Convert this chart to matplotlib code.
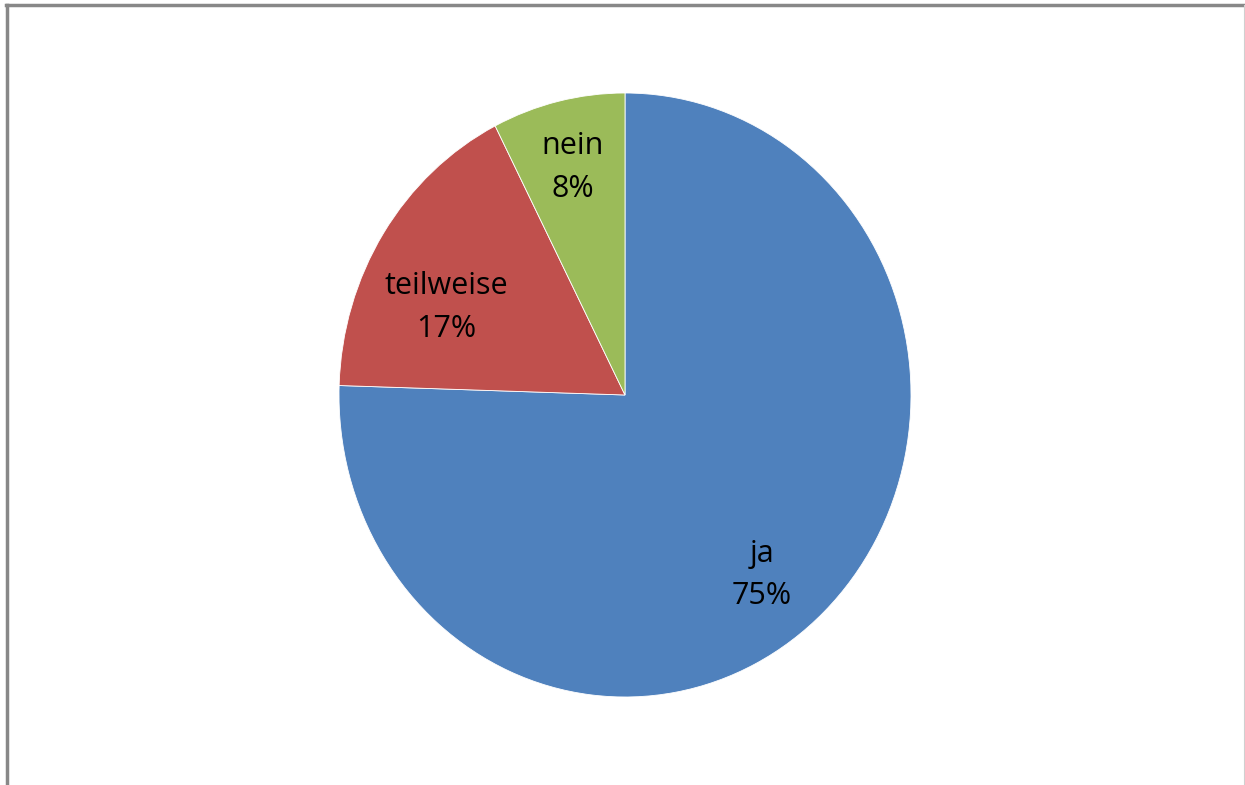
import numpy as np
import matplotlib.pyplot as plt
from matplotlib.lines import Line2D

# Umfrage-Anteile (gemessen aus dem Bild), Reihenfolge im Uhrzeigersinn ab 12 Uhr
categories = ["ja", "teilweise", "nein"]
shares = [75.5, 17.0, 7.5]
pct_labels = ["75%", "17%", "8%"]
colors = ["#4F81BD", "#C0504D", "#9BBB59"]

# label placement: (radius, angle offset from slice middle in degrees)
label_place = [(0.765, -5.3), (0.69, 7.5), (0.775, 0.2)]

plt.rcParams['font.family'] = ['Open Sans', 'DejaVu Sans']

fig = plt.figure(figsize=(12.45, 7.85), dpi=100)
W, H = 1245, 785

# pie slightly taller than wide, like the original
cx, cy, rx, ry = 625, 395, 286, 302
ax = fig.add_axes([(cx - rx) / W, (H - cy - ry) / H, 2 * rx / W, 2 * ry / H])

wedges, _ = ax.pie(shares, colors=colors, startangle=90, counterclock=False,
                   wedgeprops=dict(edgecolor="white", linewidth=0.6))
ax.set_aspect('auto')
ax.set_xlim(-1, 1)
ax.set_ylim(-1, 1)
ax.axis('off')

for w, cat, pl, (r, dth) in zip(wedges, categories, pct_labels, label_place):
    mid = np.deg2rad((w.theta1 + w.theta2) / 2 + dth)
    ax.text(r * np.cos(mid), r * np.sin(mid), cat + "\n" + pl,
            ha="center", va="center", fontsize=22, color="black", linespacing=1.55)

# chart frame (top + left darker, right faint)
fig.add_artist(Line2D([6 / W, 1243 / W], [1 - 4.5 / H, 1 - 4.5 / H], color="#888888", lw=2.5))
fig.add_artist(Line2D([6.5 / W, 6.5 / W], [0, 1 - 4.5 / H], color="#888888", lw=2.5))
fig.add_artist(Line2D([1243.5 / W, 1243.5 / W], [0, 1 - 4.5 / H], color="#d0d0d0", lw=0.8))

fig.savefig("out.png", dpi=100)
